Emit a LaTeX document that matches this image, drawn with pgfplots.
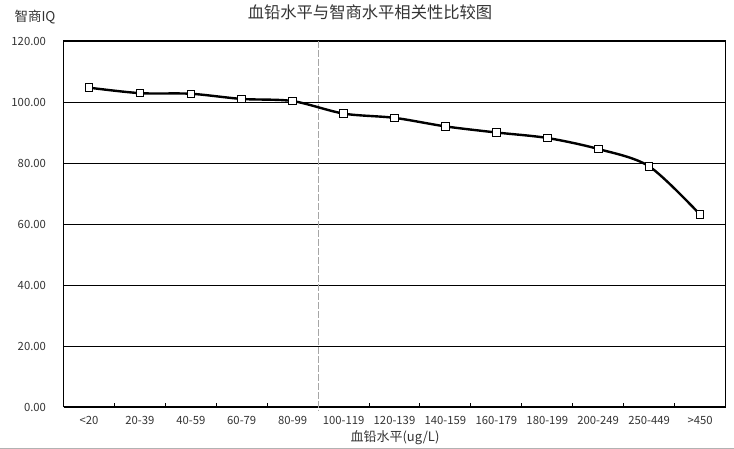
\documentclass[border=0pt]{standalone}
\usepackage{pgfplots}
\pgfplotsset{compat=1.18}
\usepackage{fontspec}
\setmainfont{Noto Sans CJK SC}
\begin{document}
\begin{tikzpicture}
\useasboundingbox (0,0) rectangle (734pt,449pt);
\begin{axis}[
  at={(63.5pt,42pt)}, anchor=south west,
  scale only axis, width=662pt, height=366pt,
  xmin=-0.5, xmax=12.5, ymin=0, ymax=120,
  clip=false,
  axis line style={black, line width=1pt},
  xtick={0,...,12},
  xticklabels={<20,20-39,40-59,60-79,80-99,100-119,120-139,140-159,160-179,180-199,200-249,250-449,>450},
  major x tick style={draw=none},
  minor xtick={0.5,1.5,2.5,3.5,5.5,6.5,7.5,8.5,9.5,10.5,11.5},
  minor tick length=4pt,
  minor x tick style={black, line width=1pt},
  xtick align=inside, xtick pos=bottom,
  ytick={0,20,...,120},
  ytick style={draw=none},
  yticklabel={\pgfmathprintnumber[fixed,fixed zerofill,precision=2]{\tick}},
  ymajorgrids, grid style={black, line width=0.9pt},
  ticklabel style={font=\fontsize{11.3}{13}\selectfont, text=black!80},
  /pgf/number format/assume math mode=true,
  xticklabel style={yshift=-6pt},
  yticklabel style={xshift=-14pt},
]
\addplot[gray!70, dashed, dash pattern=on 7pt off 2pt, line width=0.8pt] coordinates {(4.5,120) (4.5,-1.2)};
\addplot[black, line width=2.4pt, smooth, tension=0.5,
  mark=square*, mark size=3.8pt, mark options={fill=white, draw=black, line width=0.9pt}]
  coordinates {
  (0,104.7) (1,102.9) (2,102.7) (3,101.0) (4,100.3) (5,96.2) (6,94.8)
  (7,92.0) (8,90.0) (9,88.2) (10,84.6) (11,78.9) (12,63.1)
  };
\end{axis}
\node[font=\fontsize{16.3}{18}\selectfont, text=black!80] at (370pt,437pt) {血铅水平与智商水平相关性比较图};
\node[font=\fontsize{13.5}{15}\selectfont, text=black!80, anchor=west] at (11pt,432pt) {智商IQ};
\node[font=\fontsize{13}{15}\selectfont, text=black!80] at (395pt,11pt) {血铅水平(ug/L)};
\draw[gray!60, line width=1.2pt] (0,0.6pt) -- (734pt,0.6pt);
\end{tikzpicture}
\end{document}
